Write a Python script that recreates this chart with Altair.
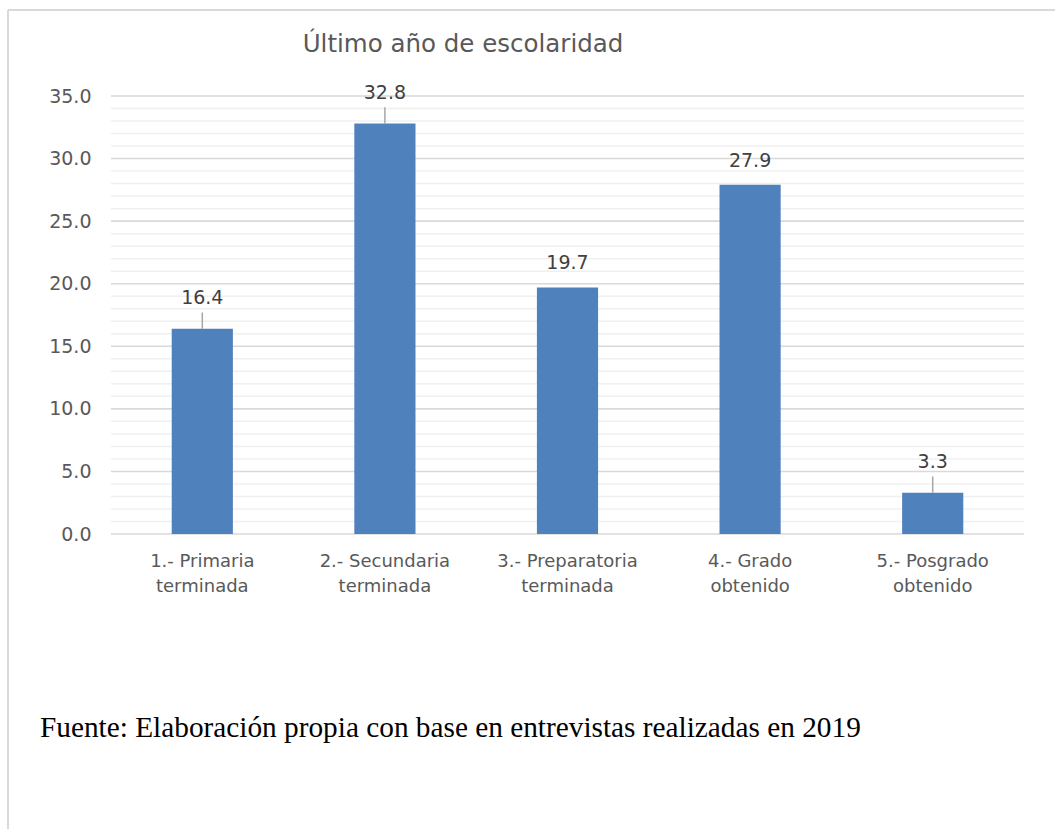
import altair as alt
import pandas as pd

categories = ["1.- Primaria terminada", "2.- Secundaria terminada",
              "3.- Preparatoria terminada", "4.- Grado obtenido",
              "5.- Posgrado obtenido"]
values = [16.4, 32.8, 19.7, 27.9, 3.3]
leader = [True, True, False, False, True]
major_ticks = [0, 5, 10, 15, 20, 25, 30, 35]
minor_ticks = [v for v in range(0, 36) if v % 5 != 0]
title_text = "Último año de escolaridad"
source_text = "Fuente: Elaboración propia con base en entrevistas realizadas en 2019"

df = pd.DataFrame({"cat": categories, "val": values, "leader": leader})
major_df = pd.DataFrame({"g": major_ticks})
minor_df = pd.DataFrame({"g": minor_ticks})

W, H = 913, 438
FONT = "DejaVu Sans"
GRAY = "#595959"

x = alt.X(
    "cat:N", sort=categories,
    scale=alt.Scale(paddingInner=0.665, paddingOuter=0.3325),
    axis=alt.Axis(
        title=None, labelAngle=0, domain=False, ticks=False, grid=False, labelOverlap=False,
        labelExpr="[substring(datum.label,0,lastindexof(datum.label,' ')), substring(datum.label,lastindexof(datum.label,' ')+1)]",
        labelFont=FONT, labelFontSize=18, labelColor=GRAY,
        labelPadding=18, labelLineHeight=25,
    ),
)
yscale = alt.Scale(domain=[0, 35], nice=False)
yaxis = alt.Axis(
    title=None, values=major_ticks, domain=False, ticks=False, grid=False,
    labelOverlap=False, format=".1f",
    labelFont=FONT, labelFontSize=19, labelColor=GRAY, labelPadding=20,
)

minor = alt.Chart(minor_df).mark_rule(color="#f0f0f0", strokeWidth=1.5).encode(
    y=alt.Y("g:Q", scale=yscale, axis=yaxis))
major = alt.Chart(major_df).mark_rule(color="#d9d9d9", strokeWidth=1.6).encode(
    y=alt.Y("g:Q", scale=yscale, axis=yaxis))

base = alt.Chart(df)
bars = base.mark_bar(color="#4F81BD").encode(
    x=x, y=alt.Y("val:Q", scale=yscale, axis=yaxis))

leaders = base.transform_filter("datum.leader").transform_calculate(
    top="datum.val + 1.3"
).mark_rule(color="#a6a6a6", strokeWidth=1.5).encode(x=x, y="val:Q", y2="top:Q")

lab_lead = base.transform_filter("datum.leader").mark_text(
    dy=-31, baseline="middle", font=FONT, fontSize=19, color="#404040"
).encode(x=x, y="val:Q", text=alt.Text("val:Q", format=".1f"))

lab_plain = base.transform_filter("!datum.leader").mark_text(
    dy=-24, baseline="middle", font=FONT, fontSize=19, color="#404040"
).encode(x=x, y="val:Q", text=alt.Text("val:Q", format=".1f"))

one = pd.DataFrame({"k": [0]})
title = alt.Chart(one).mark_text(
    text=title_text, font=FONT, fontSize=24.5, color=GRAY, align="center", baseline="middle"
).encode(x=alt.value(352), y=alt.value(-51))

footer = alt.Chart(one).mark_text(
    text=source_text, font="Liberation Serif", fontSize=29.3, color="#000000",
    align="left", baseline="alphabetic"
).encode(x=alt.value(-71), y=alt.value(641))

border_left = alt.Chart(one).mark_rule(color="#d9d9d9", strokeWidth=2).encode(
    x=alt.value(-103), y=alt.value(-86), y2=alt.value(740))
border_top = alt.Chart(one).mark_rule(color="#d9d9d9", strokeWidth=2).encode(
    y=alt.value(-86), x=alt.value(-103), x2=alt.value(960))

chart = alt.layer(
    minor, major, bars, leaders, lab_lead, lab_plain, title, footer, border_left, border_top
).resolve_scale(y="shared").resolve_axis(y="shared").properties(
    width=W, height=H,
    background="white",
    autosize=alt.AutoSizeParams(type="none"),
    padding={"left": 111, "top": 96, "right": 31, "bottom": 295},
).configure_view(stroke="transparent", strokeWidth=0)

chart.save("out.html", embed_options={"renderer": "svg", "actions": False})
